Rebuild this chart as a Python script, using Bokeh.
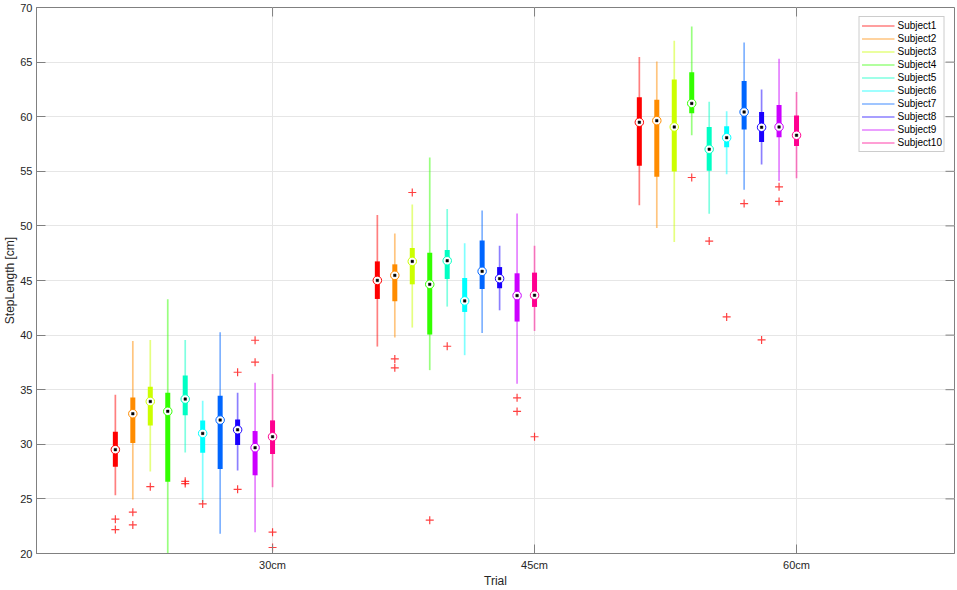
import math
from bokeh.plotting import figure
from bokeh.models import (Range1d, FixedTicker, Legend, LegendItem, ColumnDataSource)
from bokeh.embed import file_html
from bokeh.resources import INLINE

trials = ["30cm", "45cm", "60cm"]
subjects = ["Subject%d" % i for i in range(1, 11)]
colors = ["#FF0000", "#FF8C00", "#CCFF00", "#33FF00", "#00FFC4",
          "#00FFFF", "#0066FF", "#1A00FF", "#CC00FF", "#FF0090"]

# per trial (rows) and subject (columns)
whisker_lo = [
    [25.33, 24.94, 27.50, 19.80, 29.26, 24.69, 21.80, 27.59, 21.95, 26.07],
    [38.95, 39.78, 40.69, 36.79, 42.61, 38.16, 40.20, 42.27, 35.54, 40.38],
    [51.90, 49.80, 48.52, 58.30, 51.11, 54.73, 53.32, 55.62, 54.12, 54.37],
]
q1 = [
    [27.95, 30.12, 31.73, 26.56, 32.65, 29.23, 27.74, 29.93, 27.16, 29.11],
    [43.31, 43.10, 44.65, 40.05, 45.14, 42.12, 44.22, 44.29, 41.24, 42.58],
    [55.50, 54.50, 54.98, 60.31, 55.04, 57.20, 58.82, 57.69, 58.12, 57.32],
]
median = [
    [29.51, 32.80, 33.92, 33.02, 34.14, 31.00, 32.22, 31.33, 29.69, 30.69],
    [45.01, 45.47, 46.75, 44.65, 46.81, 43.13, 45.84, 45.17, 43.62, 43.65],
    [59.49, 59.64, 59.06, 61.22, 57.02, 58.08, 60.43, 59.03, 59.06, 58.30],
]
q3 = [
    [31.15, 34.29, 35.27, 34.72, 36.30, 32.19, 34.44, 32.28, 31.21, 32.19],
    [46.75, 46.48, 47.97, 47.54, 47.79, 45.23, 48.67, 46.23, 45.66, 45.72],
    [61.77, 61.56, 63.41, 64.06, 59.06, 59.12, 63.26, 60.43, 61.07, 60.10],
]
whisker_hi = [
    [34.53, 39.47, 39.56, 43.28, 39.56, 33.99, 40.26, 34.72, 35.63, 36.43],
    [50.99, 49.31, 51.96, 56.26, 51.54, 48.40, 51.41, 48.18, 51.14, 48.18],
    [65.46, 65.06, 66.96, 68.26, 61.37, 60.49, 66.80, 62.48, 65.31, 62.26],
]

out_trial = [0] * 14 + [1] * 8 + [2] * 7
out_subject = [0, 0, 1, 1, 2, 4, 4, 5, 7, 7, 8, 8, 9, 9,
               1, 1, 2, 3, 4, 8, 8, 9,
               3, 4, 5, 6, 7, 8, 8]
out_value = [23.14, 22.19, 23.78, 22.62, 26.12, 26.61, 26.40, 24.54, 36.60, 25.88,
             39.53, 37.52, 21.95, 20.55,
             37.82, 37.00, 53.06, 23.05, 38.98, 34.26, 33.01, 30.69,
             54.43, 48.61, 41.66, 52.04, 39.56, 53.58, 52.24]

trial_pos = [1, 2, 3]
yticks = list(range(20, 71, 5))
step = 1.0 / 15
X0, X1, Y0, Y1 = 0.099, 3.603, 20, 70


def xpos(t, s):
    return trial_pos[t] - (9 - s) * step


FONT = "Liberation Sans"
AX = "#808080"
TXT = "#262626"

p = figure(width=957, height=590, x_range=Range1d(X0, X1), y_range=Range1d(Y0, Y1),
           output_backend="svg", toolbar_location=None,
           min_border_left=10, min_border_right=3, min_border_top=7, min_border_bottom=10,
           outline_line_color=AX, outline_line_width=1)
p.background_fill_color = "white"
p.border_fill_color = "white"

p.xaxis.ticker = FixedTicker(ticks=trial_pos)
p.xaxis.major_label_overrides = {trial_pos[i]: trials[i] for i in range(3)}
p.yaxis.ticker = FixedTicker(ticks=yticks)
for ax in (p.xaxis[0], p.yaxis[0]):
    ax.axis_line_color = AX
    ax.major_tick_line_color = AX
    ax.major_tick_in = 9
    ax.major_tick_out = 0
    ax.minor_tick_line_color = None
    ax.major_label_text_font = FONT
    ax.major_label_text_font_size = "11px"
    ax.major_label_text_color = TXT
    ax.axis_label_text_font = FONT
    ax.axis_label_text_font_size = "12px"
    ax.axis_label_text_font_style = "normal"
    ax.axis_label_text_color = TXT
p.xaxis.axis_label = "Trial"
p.yaxis.axis_label = "StepLength [cm]"
p.xaxis.major_label_standoff = 5
p.xaxis.axis_label_standoff = 0
p.yaxis.major_label_standoff = 4
p.yaxis.axis_label_standoff = 0

p.xgrid.ticker = FixedTicker(ticks=trial_pos)
p.ygrid.ticker = FixedTicker(ticks=yticks)
p.grid.grid_line_color = "#e6e6e6"
p.grid.grid_line_width = 1

# inward tick marks on the right and top edges of the box
p.ray(x=[X1] * len(yticks), y=yticks, length=9, length_units="screen",
      angle=math.pi, line_color=AX, line_width=1)
p.ray(x=trial_pos, y=[Y1] * len(trial_pos), length=9, length_units="screen",
      angle=-math.pi / 2, line_color=AX, line_width=1)

items = []
box_sources = []
for s in range(10):
    src = ColumnDataSource(dict(
        x=[xpos(t, s) for t in range(3)],
        lo=[whisker_lo[t][s] for t in range(3)],
        q1=[q1[t][s] for t in range(3)],
        med=[median[t][s] for t in range(3)],
        q3=[q3[t][s] for t in range(3)],
        hi=[whisker_hi[t][s] for t in range(3)],
    ))
    box_sources.append(src)
    r = p.segment(x0="x", y0="lo", x1="x", y1="hi", source=src,
                  line_color=colors[s], line_alpha=0.5, line_width=1.7)
    items.append(LegendItem(label=subjects[s], renderers=[r]))

for s in range(10):
    src = box_sources[s]
    p.segment(x0="x", y0="q1", x1="x", y1="q3", source=src,
              line_color=colors[s], line_width=5, line_cap="butt")

for s in range(10):
    src = box_sources[s]
    p.scatter(x="x", y="med", source=src, size=8.5, fill_color="white",
              line_color=colors[s], line_width=1)
    p.scatter(x="x", y="med", source=src, marker="square", size=2.5,
              fill_color="black", line_color="black", line_width=0.5)

out_src = ColumnDataSource(dict(
    x=[xpos(t, s) for t, s in zip(out_trial, out_subject)],
    y=out_value,
))
p.scatter(x="x", y="y", source=out_src, marker="cross", size=8,
          line_color="#FF0000", line_alpha=0.75, line_width=1.2)

legend = Legend(items=items, location="top_right", margin=9,
                label_text_font=FONT, label_text_font_size="10px", label_text_color="#000000",
                glyph_width=33, glyph_height=13, label_height=13, spacing=0,
                padding=2, label_standoff=3,
                border_line_color="#999999", border_line_width=1,
                background_fill_color="white", background_fill_alpha=1)
p.add_layout(legend)

open("out.html", "w").write(file_html(p, INLINE))
